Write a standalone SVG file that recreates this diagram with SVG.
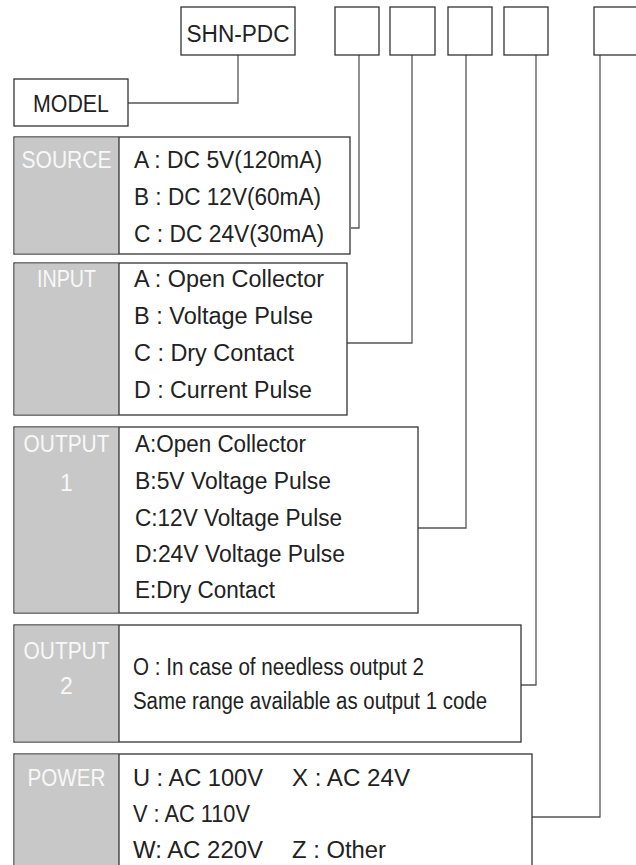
<svg xmlns="http://www.w3.org/2000/svg" width="636" height="865" viewBox="0 0 636 865">
<style>
.box{fill:#fff;stroke:#333;stroke-width:1.3}
.gray{fill:#c8c8c8;stroke:none}
.div{stroke:#333;stroke-width:1.3}
.wire{fill:none;stroke:#555;stroke-width:1.3}
text{font-family:"Liberation Sans",Arial,sans-serif;font-size:23px}
.t{fill:#222}
.lbl{fill:#f8f8f8;text-anchor:middle}
.c{text-anchor:middle}
</style>
<rect width="636" height="865" fill="#fff"/>
<g id="connectors">
<path class="wire" d="M238,55 V103 H128"/>
<path class="wire" d="M359,55 V228 H351"/>
<path class="wire" d="M412,55 V343 H347"/>
<path class="wire" d="M466,55 V528 H418"/>
<path class="wire" d="M536,55 V685 H521"/>
<path class="wire" d="M600,55 V817 H532"/>
</g>
<g id="shn-pdc">
<rect class="box" x="181" y="7" width="114" height="48"/>
<text class="t c" x="238" y="42" textLength="103" lengthAdjust="spacingAndGlyphs">SHN-PDC</text>
</g>
<g id="model">
<rect class="box" x="14" y="79" width="114" height="47"/>
<text class="t c" x="71" y="112" textLength="76" lengthAdjust="spacingAndGlyphs">MODEL</text>
</g>
<g id="slot1"><rect class="box" x="335" y="7" width="44" height="48"/></g>
<g id="slot2"><rect class="box" x="390" y="7" width="45" height="48"/></g>
<g id="slot3"><rect class="box" x="448" y="7" width="44" height="48"/></g>
<g id="slot4"><rect class="box" x="504" y="7" width="44" height="48"/></g>
<g id="slot5"><rect class="box" x="594" y="7" width="50" height="48"/></g>
<g id="source">
<rect class="box" x="14" y="137" width="336" height="117"/>
<rect class="gray" x="14.6" y="137.6" width="104.4" height="115.8"/>
<line class="div" x1="119" y1="137" x2="119" y2="254"/>
<text class="lbl" x="66.5" y="168" textLength="90" lengthAdjust="spacingAndGlyphs">SOURCE</text>
<text class="t" x="134" y="168" textLength="188" lengthAdjust="spacingAndGlyphs">A : DC 5V(120mA)</text>
<text class="t" x="134" y="205" textLength="187" lengthAdjust="spacingAndGlyphs">B : DC 12V(60mA)</text>
<text class="t" x="134" y="242" textLength="190" lengthAdjust="spacingAndGlyphs">C : DC 24V(30mA)</text>
</g>
<g id="input">
<rect class="box" x="14" y="263" width="333" height="152"/>
<rect class="gray" x="14.6" y="263.6" width="104.4" height="150.8"/>
<line class="div" x1="119" y1="263" x2="119" y2="415"/>
<text class="lbl" x="66.5" y="287" textLength="59" lengthAdjust="spacingAndGlyphs">INPUT</text>
<text class="t" x="134" y="287" textLength="190" lengthAdjust="spacingAndGlyphs">A : Open Collector</text>
<text class="t" x="134" y="324" textLength="179" lengthAdjust="spacingAndGlyphs">B : Voltage Pulse</text>
<text class="t" x="134" y="361" textLength="160" lengthAdjust="spacingAndGlyphs">C : Dry Contact</text>
<text class="t" x="134" y="398" textLength="178" lengthAdjust="spacingAndGlyphs">D : Current Pulse</text>
</g>
<g id="output1">
<rect class="box" x="14" y="427" width="404" height="186"/>
<rect class="gray" x="14.6" y="427.6" width="104.4" height="184.8"/>
<line class="div" x1="119" y1="427" x2="119" y2="613"/>
<text class="lbl" x="66.5" y="452" textLength="86" lengthAdjust="spacingAndGlyphs">OUTPUT</text>
<text class="lbl" x="66.5" y="491">1</text>
<text class="t" x="135" y="452" textLength="171" lengthAdjust="spacingAndGlyphs">A:Open Collector</text>
<text class="t" x="135" y="489" textLength="196" lengthAdjust="spacingAndGlyphs">B:5V Voltage Pulse</text>
<text class="t" x="135" y="526" textLength="207" lengthAdjust="spacingAndGlyphs">C:12V Voltage Pulse</text>
<text class="t" x="135" y="562" textLength="210" lengthAdjust="spacingAndGlyphs">D:24V Voltage Pulse</text>
<text class="t" x="135" y="598" textLength="140" lengthAdjust="spacingAndGlyphs">E:Dry Contact</text>
</g>
<g id="output2">
<rect class="box" x="14" y="625" width="507" height="117"/>
<rect class="gray" x="14.6" y="625.6" width="104.4" height="115.8"/>
<line class="div" x1="119" y1="625" x2="119" y2="742"/>
<text class="lbl" x="66.5" y="659" textLength="86" lengthAdjust="spacingAndGlyphs">OUTPUT</text>
<text class="lbl" x="66.5" y="694">2</text>
<text class="t" x="133" y="675" textLength="291" lengthAdjust="spacingAndGlyphs">O : In case of needless output 2</text>
<text class="t" x="133" y="709" textLength="354" lengthAdjust="spacingAndGlyphs">Same range available as output 1 code</text>
</g>
<g id="power">
<rect class="box" x="14" y="754" width="518" height="120"/>
<rect class="gray" x="14.6" y="754.6" width="104.4" height="118"/>
<line class="div" x1="119" y1="754" x2="119" y2="874"/>
<text class="lbl" x="66.5" y="786" textLength="78" lengthAdjust="spacingAndGlyphs">POWER</text>
<text class="t" x="133" y="786" textLength="130" lengthAdjust="spacingAndGlyphs">U : AC 100V</text>
<text class="t" x="292" y="786" textLength="118" lengthAdjust="spacingAndGlyphs">X : AC 24V</text>
<text class="t" x="133" y="822" textLength="117" lengthAdjust="spacingAndGlyphs">V : AC 110V</text>
<text class="t" x="133" y="858" textLength="130" lengthAdjust="spacingAndGlyphs">W: AC 220V</text>
<text class="t" x="292" y="858" textLength="94" lengthAdjust="spacingAndGlyphs">Z : Other</text>
</g>
</svg>
